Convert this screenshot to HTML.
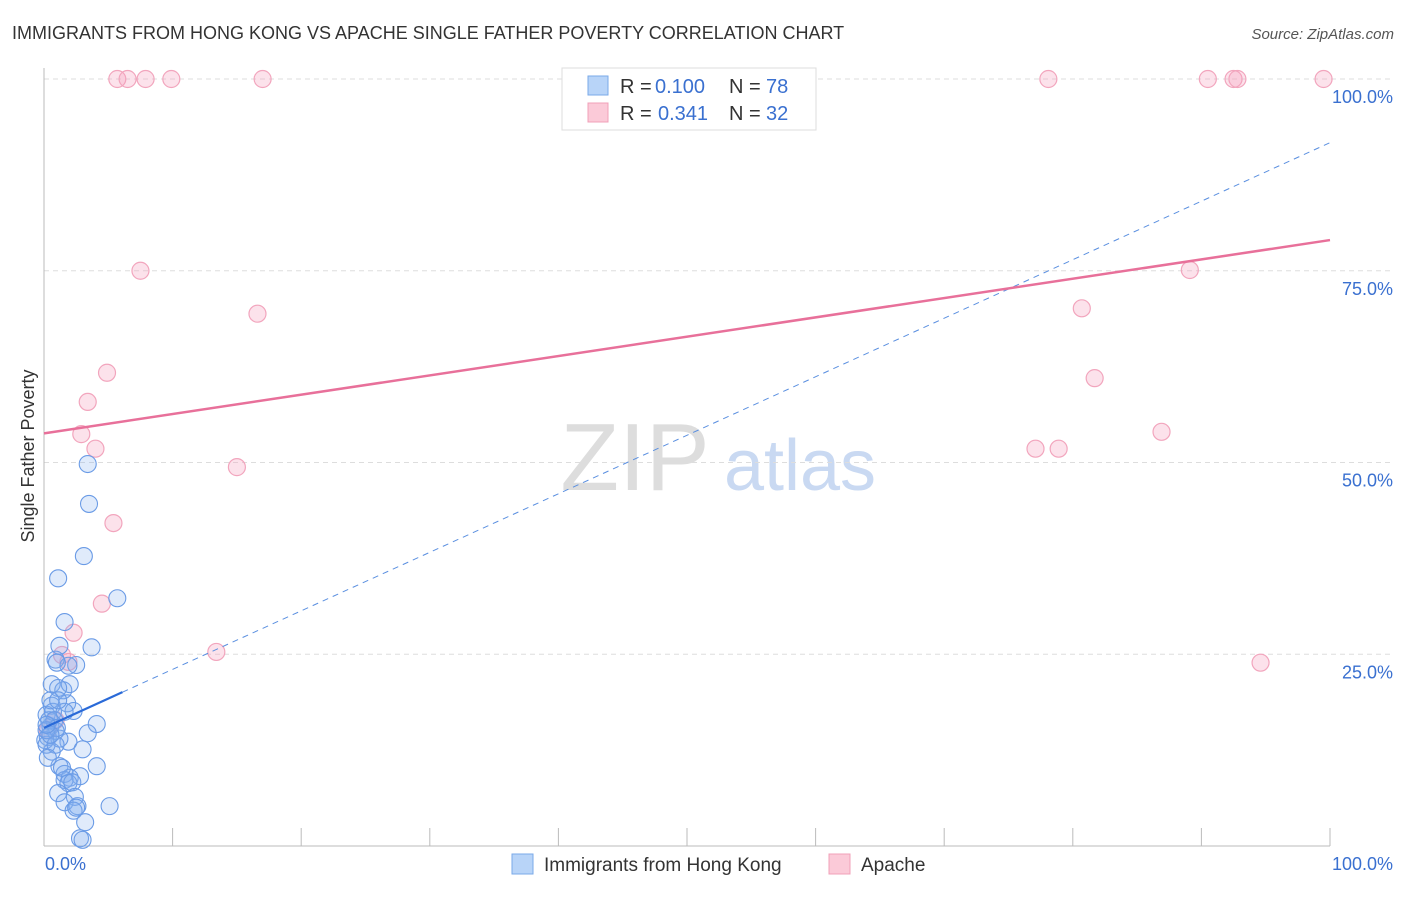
<!DOCTYPE html>
<html><head><meta charset="utf-8"><style>
body{margin:0;background:#fff;font-family:"Liberation Sans",sans-serif}
svg text{font-family:"Liberation Sans",sans-serif}
</style></head><body>
<svg id="chart" width="1406" height="892" xmlns="http://www.w3.org/2000/svg">
<text x="12" y="39" font-size="18" fill="#333">IMMIGRANTS FROM HONG KONG VS APACHE SINGLE FATHER POVERTY CORRELATION CHART</text>
<text x="1394" y="39" font-size="15" fill="#555" text-anchor="end" font-style="italic">Source: ZipAtlas.com</text>
<g>
<text x="635" y="490" font-size="96" fill="#ddd" text-anchor="middle" font-family="Liberation Serif, serif">ZIP</text>
<text x="800" y="490" font-size="72" fill="#c9d9f2" text-anchor="middle">atlas</text>
</g>
<g id="grid"></g>
<g id="axes"></g>
<g id="marks"></g>
<text transform="translate(34,456) rotate(-90)" font-size="18" fill="#333" text-anchor="middle">Single Father Poverty</text>
<g>
<rect x="562" y="68" width="254" height="62" fill="#fff" stroke="#ddd"/>
<rect x="588" y="76" width="20" height="19" fill="#b8d4f8" stroke="#7aaae8"/>
<rect x="588" y="103" width="20" height="19" fill="#fbcad8" stroke="#f0a0b8"/>
<text x="620" y="93" font-size="20" fill="#333">R =</text>
<text x="655" y="93" font-size="20" fill="#3a70d0">0.100</text>
<text x="729" y="93" font-size="20" fill="#333">N =</text>
<text x="766" y="93" font-size="20" fill="#3a70d0">78</text>
<text x="620" y="120" font-size="20" fill="#333">R =</text>
<text x="658" y="120" font-size="20" fill="#3a70d0">0.341</text>
<text x="729" y="120" font-size="20" fill="#333">N =</text>
<text x="766" y="120" font-size="20" fill="#3a70d0">32</text>
</g>
<g>
<rect x="512" y="854" width="21" height="20" fill="#b8d4f8" stroke="#7aaae8"/>
<text x="544" y="871" font-size="19" fill="#333">Immigrants from Hong Kong</text>
<rect x="829" y="854" width="21" height="20" fill="#fbcad8" stroke="#f0a0b8"/>
<text x="861" y="871" font-size="19" fill="#333">Apache</text>
</g>
</svg>
<script>
const blueX=[3.4,3.5,3.1,1.1,5.7,1.6,3.7,1.2,0.9,2.5,1.9,1.0,0.6,1.5,2.0,1.1,1.8,2.3,0.6,4.1,3.4,0.5,0.9,0.3,1.9,3.0,0.6,1.2,0.1,4.1,1.2,2.8,1.6,2.0,1.6,1.9,2.2,1.1,2.4,1.6,2.6,2.3,5.1,2.5,3.2,2.8,3.0,0.2,0.4,0.2,0.7,0.9,1.4,0.5,0.8,1.0,1.6,0.3,1.1,0.2,0.5,0.2];
const blueY=[49.8,44.6,37.8,34.9,32.3,29.2,25.9,26.1,24.3,23.6,23.5,23.9,21.1,20.3,21.1,20.6,18.6,17.6,18.3,15.9,14.7,15.6,15.0,14.2,13.6,12.6,12.3,14.0,13.8,10.4,10.4,9.1,9.4,8.9,8.6,8.2,8.3,6.9,6.4,5.7,5.2,4.6,5.2,5.0,3.1,1.0,0.8,17.1,16.4,13.2,17.5,13.2,10.2,19.0,16.4,15.4,17.5,11.5,19.0,15.1,14.5,15.8];
const pinkX=[5.7,6.5,7.9,9.9,17.0,78.1,90.5,92.5,92.8,99.5,7.5,16.6,4.9,3.4,2.9,4.0,15.0,5.4,4.5,2.3,13.4,89.1,80.7,81.7,86.9,77.1,78.9,94.6,1.4,1.9,0.3,0.9];
const pinkY=[100,100,100,100,100,100,100,100,100,100,75.0,69.4,61.7,57.9,53.7,51.8,49.4,42.1,31.6,27.8,25.3,75.1,70.1,61.0,54.0,51.8,51.8,23.9,24.9,24.0,15.1,16.4];
const blueTrend=[15.4,91.7];
const blueSolidEnd=6.1;
const pinkTrend=[53.8,79.0];
const yTicks=[25,50,75,100];
const yTickLabels=["25.0%","50.0%","75.0%","100.0%"];
const xTicks=[0,10,20,30,40,50,60,70,80,90,100];
const xs=v=>44+v*12.86, ys=v=>846-v*7.67;
const NS="http://www.w3.org/2000/svg";
function mk(tag,attrs,parent){const e=document.createElementNS(NS,tag);for(const k in attrs)e.setAttribute(k,attrs[k]);document.getElementById(parent).appendChild(e);return e;}
yTicks.forEach((t,i)=>{
 const l=mk('line',{x1:44,x2:1394,y1:ys(t),y2:ys(t),stroke:'#ddd','stroke-dasharray':'5,4'},'grid');
 
 
 const tx=mk('text',{x:1393,y:ys(t)+24,'font-size':18,fill:'#3a70d0','text-anchor':'end'},'axes');
 tx.textContent=yTickLabels[i];
 
 
});
const ax=mk('line',{x1:44,x2:44,y1:68,y2:846,stroke:'#bbb'},'axes');


const bx=mk('line',{x1:44,x2:1330,y1:846,y2:846,stroke:'#bbb'},'axes');


xTicks.forEach(t=>{
 const l=mk('line',{x1:xs(t),x2:xs(t),y1:828,y2:846,stroke:'#bbb'},'axes');
 
 
});
const x0=mk('text',{x:45,y:870,'font-size':18,fill:'#3a70d0'},'axes');x0.textContent='0.0%';


const x1=mk('text',{x:1393,y:870,'font-size':18,fill:'#3a70d0','text-anchor':'end'},'axes');x1.textContent='100.0%';


pinkX.forEach((x,i)=>{
 const c=mk('circle',{cx:xs(x),cy:ys(pinkY[i]),r:8.5,fill:'rgba(245,160,188,0.3)',stroke:'#f2a5bd','stroke-width':1.2},'marks');
 
 
});
blueX.forEach((x,i)=>{
 const c=mk('circle',{cx:xs(x),cy:ys(blueY[i]),r:8.5,fill:'rgba(130,175,240,0.25)',stroke:'#6a9be6','stroke-width':1.1},'marks');
 
 
});
const bt=v=>blueTrend[0]+(blueTrend[1]-blueTrend[0])*v/100;
const bd=mk('line',{x1:xs(blueSolidEnd),y1:ys(bt(blueSolidEnd)),x2:xs(100),y2:ys(bt(100)),stroke:'#5a8fe0','stroke-dasharray':'6,5','stroke-width':1},'marks');


const bs=mk('line',{x1:xs(0),y1:ys(bt(0)),x2:xs(blueSolidEnd),y2:ys(bt(blueSolidEnd)),stroke:'#2a6ad8','stroke-width':2.2},'marks');


const pt=mk('line',{x1:xs(0),y1:ys(pinkTrend[0]),x2:xs(100),y2:ys(pinkTrend[1]),stroke:'#e8709a','stroke-width':2.5},'marks');


</script>
</body></html>
